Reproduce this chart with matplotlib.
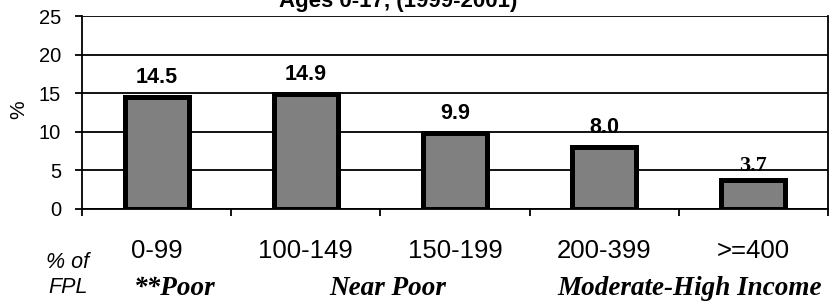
import matplotlib.pyplot as plt
from matplotlib.transforms import blended_transform_factory

# Chart data
categories = ['0-99', '100-149', '150-199', '200-399', '>=400']
values = [14.5, 14.9, 9.9, 8.0, 3.7]
groups = ['**Poor', 'Near Poor', 'Moderate-High Income']
group_x = [175, 388, 690]  # pixel centres of group labels
title = 'Ages 0-17, (1999-2001)'

W, H = 834, 304
plt.rcParams['font.family'] = ['Liberation Sans', 'DejaVu Sans']

fig = plt.figure(figsize=(W / 100, H / 100), dpi=100)
ax = fig.add_axes([82 / W, (H - 209) / H, 746 / W, 193 / H])

x = list(range(len(categories)))
ax.bar(x, values, width=0.43, color='#808080', edgecolor='black', linewidth=3.6, zorder=3)

ax.set_xlim(-0.5, len(categories) - 0.5)
ax.set_ylim(0, 25)
ax.set_yticks([0, 5, 10, 15, 20, 25])
ax.tick_params(axis='y', labelsize=14.5, length=5, width=1.3, direction='out', pad=10)
ax.yaxis.grid(True, color='black', linewidth=1.3, zorder=0)
ax.set_axisbelow(True)

# boundary ticks only; category labels placed by hand below
ax.set_xticks([])
ax.set_xticks([i - 0.5 for i in range(len(categories) + 1)], minor=True)
ax.tick_params(axis='x', which='minor', length=5, width=1.3, direction='out', labelbottom=False)

for s in ax.spines.values():
    s.set_linewidth(1.3)
ax.spines['top'].set_visible(False)

for xi, v in zip(x, values):
    if v == 3.7:
        ax.annotate(f'{v:.1f}', (xi, v), xytext=(0, 7), textcoords='offset points',
                    ha='center', va='baseline', fontsize=16, fontweight='bold',
                    family=['Liberation Serif'])
    else:
        ax.annotate(f'{v:.1f}', (xi, v), xytext=(0, 10), textcoords='offset points',
                    ha='center', va='baseline', fontsize=15.5, fontweight='bold')

fig.text(19 / W, 1 - 110 / H, '%', rotation=90, ha='center', va='center', fontsize=15)

# category labels under the bars
tr = blended_transform_factory(ax.transData, fig.transFigure)
for xi, c in zip(x, categories):
    ax.text(xi, 1 - 258 / H, c, transform=tr, ha='center', va='baseline', fontsize=18.5)

# group labels
for g, gx in zip(groups, group_x):
    fig.text(gx / W, 1 - 295 / H, g, ha='center', va='baseline', fontsize=19.5,
             fontweight='bold', style='italic', family=['Liberation Serif'])
fig.text(68 / W, 1 - 268 / H, '% of', ha='center', va='baseline', fontsize=15.5, style='italic')
fig.text(68 / W, 1 - 293 / H, 'FPL', ha='center', va='baseline', fontsize=15.5, style='italic')

# title is cut off at the top of the image, as in the reference
fig.text(398 / W, 1 - 7 / H, title, ha='center', va='baseline', fontsize=16, fontweight='bold')

plt.savefig('out.png', dpi=100)
